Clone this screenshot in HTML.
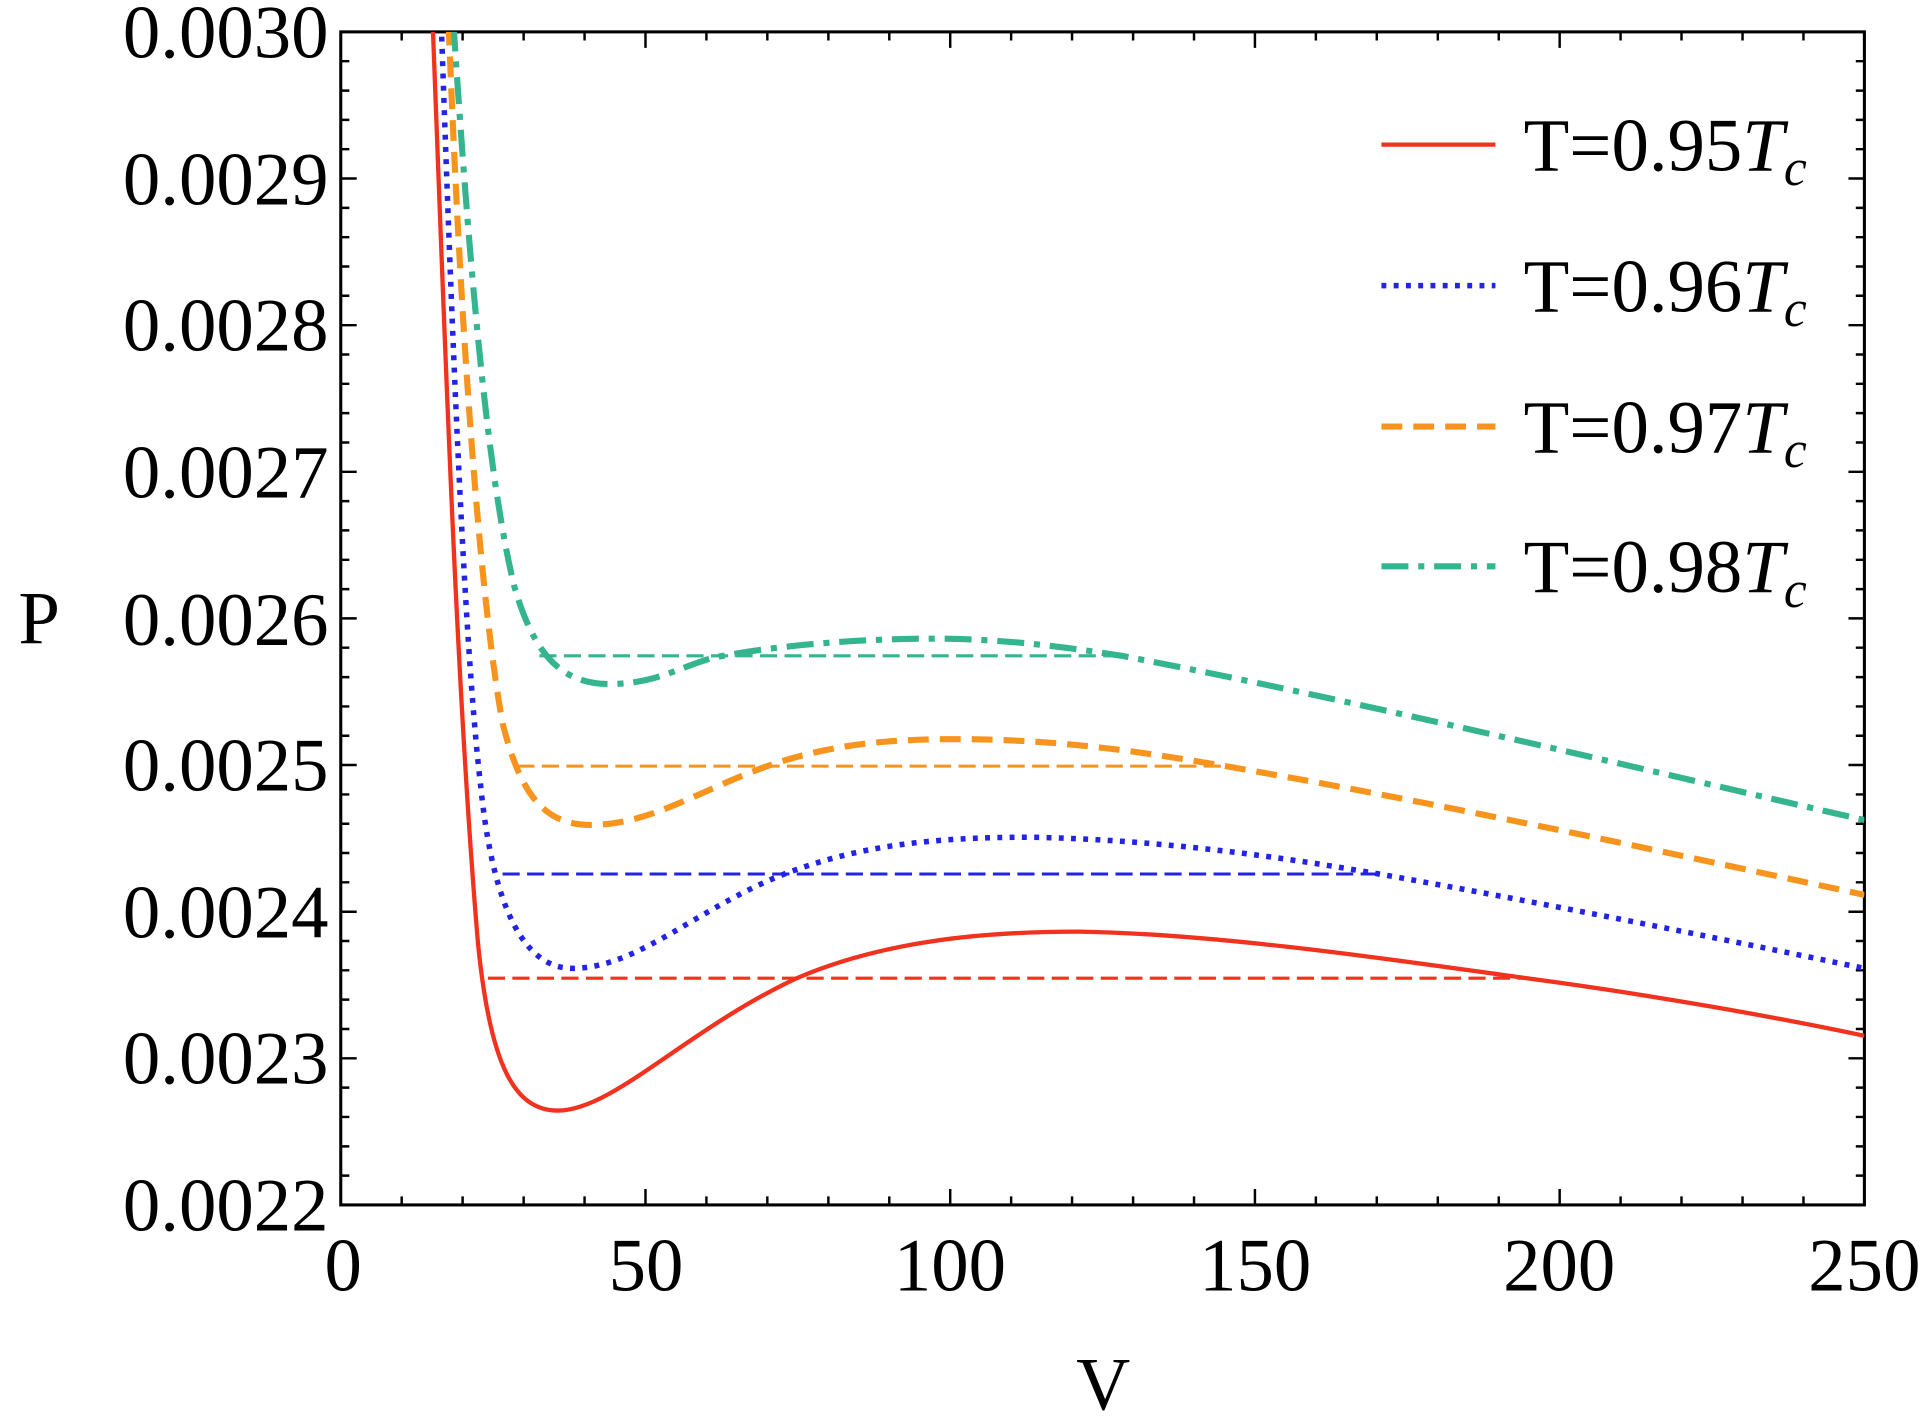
<!DOCTYPE html>
<html><head><style>html,body{margin:0;padding:0;background:#fff}svg{display:block}</style></head>
<body>
<svg width="1922" height="1417" viewBox="0 0 1568 1156" xmlns="http://www.w3.org/2000/svg" font-family="'Liberation Serif', serif">
<rect x="0" y="0" width="1568" height="1156" fill="#fff"/>
<rect x="278" y="26" width="1243" height="957" fill="none" stroke="#000" stroke-width="2.5"/>
<path stroke="#000" stroke-width="2" fill="none" d="
M278,983v-13M327.7,983v-7M377.4,983v-7M427.2,983v-7M476.9,983v-7M526.6,983v-13M576.3,983v-7M626,983v-7M675.8,983v-7M725.5,983v-7M775.2,983v-13M824.9,983v-7M874.6,983v-7M924.4,983v-7M974.1,983v-7M1023.8,983v-13M1073.5,983v-7M1123.2,983v-7M1173,983v-7M1222.7,983v-7M1272.4,983v-13M1322.1,983v-7M1371.8,983v-7M1421.6,983v-7M1471.3,983v-7M1521,983v-13
M278,26v13M327.7,26v7M377.4,26v7M427.2,26v7M476.9,26v7M526.6,26v13M576.3,26v7M626,26v7M675.8,26v7M725.5,26v7M775.2,26v13M824.9,26v7M874.6,26v7M924.4,26v7M974.1,26v7M1023.8,26v13M1073.5,26v7M1123.2,26v7M1173,26v7M1222.7,26v7M1272.4,26v13M1322.1,26v7M1371.8,26v7M1421.6,26v7M1471.3,26v7M1521,26v13
M278,959.1h7M278,935.2h7M278,911.2h7M278,887.3h7M278,863.4h13M278,839.5h7M278,815.5h7M278,791.6h7M278,767.7h7M278,743.8h13M278,719.8h7M278,695.9h7M278,672h7M278,648.1h7M278,624.1h13M278,600.2h7M278,576.3h7M278,552.4h7M278,528.4h7M278,504.5h13M278,480.6h7M278,456.7h7M278,432.7h7M278,408.8h7M278,384.9h13M278,361h7M278,337h7M278,313.1h7M278,289.2h7M278,265.3h13M278,241.3h7M278,217.4h7M278,193.5h7M278,169.6h7M278,145.6h13M278,121.7h7M278,97.8h7M278,73.9h7M278,49.9h7
M1521,959.1h-7M1521,935.2h-7M1521,911.2h-7M1521,887.3h-7M1521,863.4h-13M1521,839.5h-7M1521,815.5h-7M1521,791.6h-7M1521,767.7h-7M1521,743.8h-13M1521,719.8h-7M1521,695.9h-7M1521,672h-7M1521,648.1h-7M1521,624.1h-13M1521,600.2h-7M1521,576.3h-7M1521,552.4h-7M1521,528.4h-7M1521,504.5h-13M1521,480.6h-7M1521,456.7h-7M1521,432.7h-7M1521,408.8h-7M1521,384.9h-13M1521,361h-7M1521,337h-7M1521,313.1h-7M1521,289.2h-7M1521,265.3h-13M1521,241.3h-7M1521,217.4h-7M1521,193.5h-7M1521,169.6h-7M1521,145.6h-13M1521,121.7h-7M1521,97.8h-7M1521,73.9h-7M1521,49.9h-7"/>
<g font-size="61" fill="#000" text-anchor="end">
<text x="268" y="47">0.0030</text>
<text x="268" y="167">0.0029</text>
<text x="268" y="286">0.0028</text>
<text x="268" y="406">0.0027</text>
<text x="268" y="526">0.0026</text>
<text x="268" y="645">0.0025</text>
<text x="268" y="765">0.0024</text>
<text x="268" y="884">0.0023</text>
<text x="268" y="1004">0.0022</text>
</g>
<g font-size="61" fill="#000" text-anchor="middle">
<text x="280" y="1053">0</text>
<text x="527" y="1053">50</text>
<text x="775" y="1053">100</text>
<text x="1024" y="1053">150</text>
<text x="1272" y="1053">200</text>
<text x="1521" y="1053">250</text>
<text x="900" y="1150">V</text>
<text x="32" y="525">P</text>
</g>
<defs><clipPath id="c"><rect x="278" y="26" width="1243" height="957"/></clipPath></defs>
<g clip-path="url(#c)" fill="none">
<line x1="398" y1="798" x2="1245" y2="798" stroke="#f0321e" stroke-width="2.5" stroke-dasharray="14,6"/>
<line x1="410" y1="713" x2="1125" y2="713" stroke="#2323e6" stroke-width="2.5" stroke-dasharray="14,6"/>
<line x1="422" y1="625" x2="1000" y2="625" stroke="#f7941d" stroke-width="2.5" stroke-dasharray="14,6"/>
<line x1="440" y1="535" x2="915" y2="535" stroke="#35b58f" stroke-width="2.5" stroke-dasharray="14,6"/>
<path d="M353,20 C362,250 372,560 390,770 C400,870 420,906 455,906 C500,906 560,840 650,798 C720,768 800,760 880,760 C1000,762 1150,785 1245,798 C1350,812 1450,830 1521,845" stroke="#f0321e" stroke-width="3.5"/>
<path d="M360,20 C368,250 378,520 392,640 C400,720 420,790 467,790 C520,790 570,740 640,713 C700,690 760,683 840,683 C950,685 1050,700 1125,713 C1250,735 1400,765 1521,790" stroke="#2323e6" stroke-width="4.5" stroke-dasharray="4,6"/>
<path d="M366,20 C375,250 390,480 410,590 C425,650 445,673 482,673 C530,673 570,645 626,625 C680,606 730,603 780,603 C870,603 940,615 1000,625 C1200,660 1380,700 1521,730" stroke="#f7941d" stroke-width="5" stroke-dasharray="17,9"/>
<path d="M370,20 C385,250 400,400 420,480 C435,530 455,558 497,558 C540,558 560,540 590,535 C650,524 720,521 760,521 C820,521 870,528 915,535 C1100,570 1350,630 1521,669" stroke="#35b58f" stroke-width="5" stroke-dasharray="22,8,5,8"/>
</g>
<g fill="none">
<line x1="1127" y1="118" x2="1220" y2="118" stroke="#f0321e" stroke-width="3.5"/>
<line x1="1127" y1="233" x2="1220" y2="233" stroke="#2323e6" stroke-width="4.5" stroke-dasharray="4,6"/>
<line x1="1127" y1="348" x2="1220" y2="348" stroke="#f7941d" stroke-width="5" stroke-dasharray="17,9"/>
<line x1="1127" y1="462" x2="1220" y2="462" stroke="#35b58f" stroke-width="5" stroke-dasharray="22,8,5,8"/>
</g>
<g font-size="61" fill="#000">
<text x="1243" y="139">T=0.95<tspan font-style="italic">T</tspan><tspan font-style="italic" font-size="42" dy="12">c</tspan></text>
<text x="1243" y="254">T=0.96<tspan font-style="italic">T</tspan><tspan font-style="italic" font-size="42" dy="12">c</tspan></text>
<text x="1243" y="369">T=0.97<tspan font-style="italic">T</tspan><tspan font-style="italic" font-size="42" dy="12">c</tspan></text>
<text x="1243" y="483">T=0.98<tspan font-style="italic">T</tspan><tspan font-style="italic" font-size="42" dy="12">c</tspan></text>
</g>
</svg>
</body></html>
